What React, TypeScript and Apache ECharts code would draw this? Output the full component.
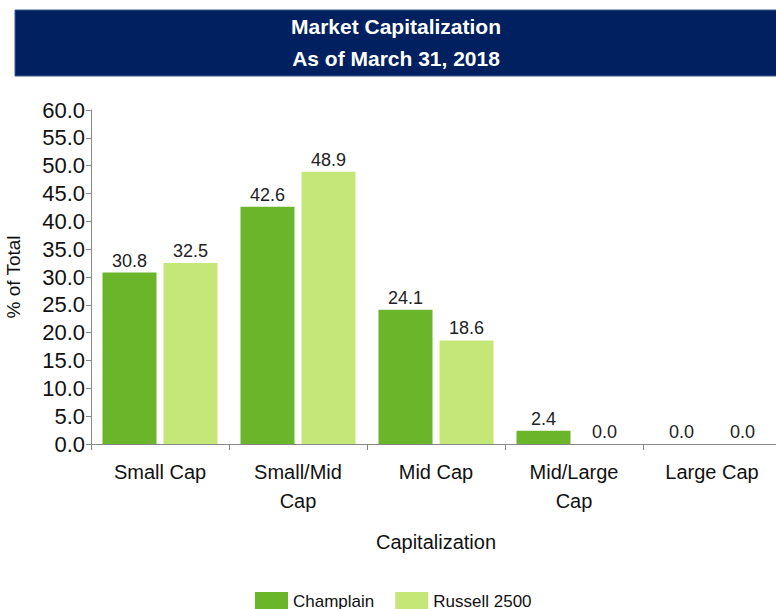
import React, { useEffect, useRef } from "react";
import * as echarts from "echarts";

const categories = ["Small Cap", "Small/Mid\nCap", "Mid Cap", "Mid/Large\nCap", "Large Cap"];
const champlain = [30.8, 42.6, 24.1, 2.4, 0.0];
const russell2500 = [32.5, 48.9, 18.6, 0.0, 0.0];
const titleLines = ["Market Capitalization", "As of March 31, 2018"];

const FONT = "'Liberation Sans', Arial, sans-serif";

export default function App() {
  const ref = useRef<HTMLDivElement>(null);

  useEffect(() => {
    if (!ref.current) return;
    const chart = echarts.init(ref.current, undefined, { renderer: "svg" });
    const labelStyle = {
      show: true,
      position: "top" as const,
      distance: 3,
      color: "#222",
      fontFamily: FONT,
      fontSize: 18,
      formatter: (p: any) => Number(p.value).toFixed(1),
    };
    chart.setOption({
      animation: false,
      backgroundColor: "#fff",
      textStyle: { fontFamily: FONT },
      graphic: [
        {
          type: "rect",
          shape: { x: 15, y: 10, width: 770, height: 66 },
          style: { fill: "#002060", stroke: "#3a5a8c", lineWidth: 1 },
        },
        {
          type: "text",
          x: 396,
          y: 26,
          style: {
            text: titleLines[0],
            fill: "#fff",
            font: `bold 21px ${FONT}`,
            textAlign: "center",
            textVerticalAlign: "middle",
          },
        },
        {
          type: "text",
          x: 396,
          y: 58,
          style: {
            text: titleLines[1],
            fill: "#fff",
            font: `bold 21px ${FONT}`,
            textAlign: "center",
            textVerticalAlign: "middle",
          },
        },
      ],
      legend: {
        left: 250,
        top: 587,
        itemWidth: 33,
        itemHeight: 18,
        itemGap: 21,
        icon: "rect",
        textStyle: { fontFamily: FONT, fontSize: 17, color: "#111" },
        data: ["Champlain", "Russell 2500"],
      },
      grid: {
        left: 91,
        top: 110,
        width: 690,
        bottom: 165,
        containLabel: false,
        outerBoundsMode: "none",
      },
      xAxis: {
        type: "category",
        data: categories,
        name: "Capitalization",
        nameLocation: "middle",
        nameGap: 88,
        nameTextStyle: { fontFamily: FONT, fontSize: 20, color: "#111" },
        axisLine: { lineStyle: { color: "#888", width: 1 } },
        axisTick: { show: true, length: 6, lineStyle: { color: "#888" } },
        axisLabel: {
          margin: 13,
          fontFamily: FONT,
          fontSize: 20,
          lineHeight: 29,
          color: "#111",
          interval: 0,
        },
      },
      yAxis: {
        type: "value",
        min: 0,
        max: 60,
        interval: 5,
        name: "% of Total",
        nameLocation: "middle",
        nameGap: 68,
        nameTextStyle: { fontFamily: FONT, fontSize: 19, color: "#111" },
        axisLine: { show: true, lineStyle: { color: "#888", width: 1 } },
        axisTick: { show: true, length: 5, lineStyle: { color: "#888" } },
        splitLine: { show: false },
        axisLabel: {
          margin: 6,
          fontFamily: FONT,
          fontSize: 22,
          color: "#111",
          formatter: (v: number) => v.toFixed(1),
        },
      },
      series: [
        {
          name: "Champlain",
          type: "bar",
          data: champlain,
          barWidth: 54,
          barGap: "13%",
          itemStyle: { color: "#6BB52A" },
          label: labelStyle,
        },
        {
          name: "Russell 2500",
          type: "bar",
          data: russell2500,
          barWidth: 54,
          itemStyle: { color: "#C4E777" },
          label: labelStyle,
        },
      ],
    });
    return () => chart.dispose();
  }, []);

  return (
    <div
      ref={ref}
      style={{ position: "absolute", left: 0, top: 0, width: 776, height: 609 }}
    />
  );
}
